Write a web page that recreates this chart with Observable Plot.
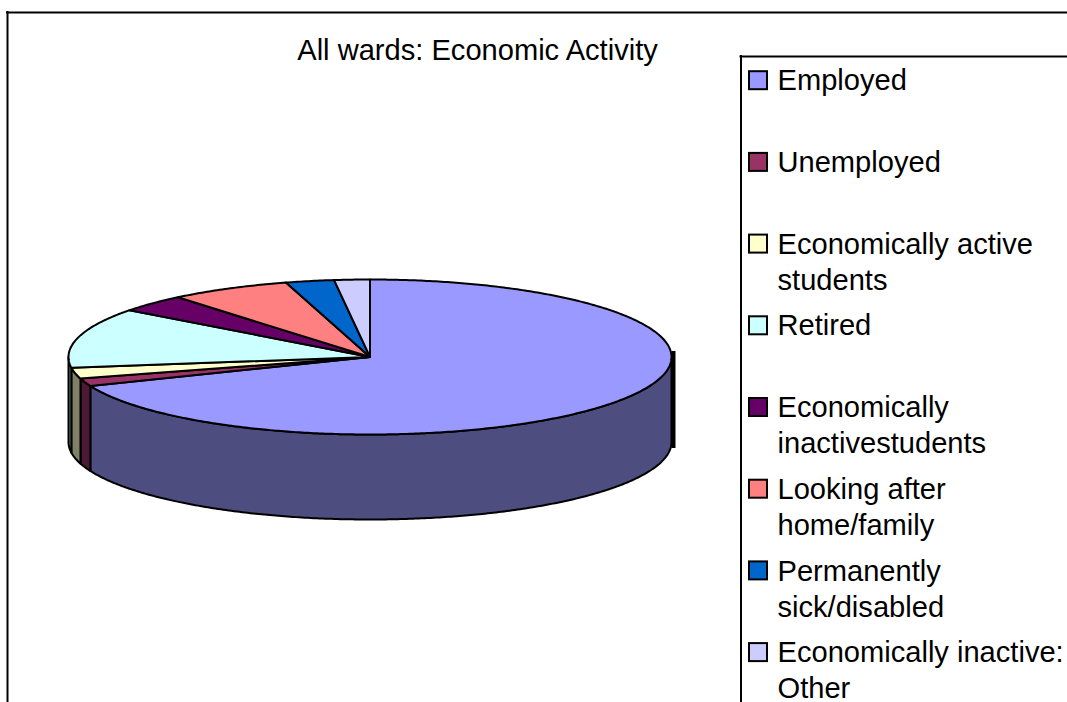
<!DOCTYPE html>
<html>
<head>
<meta charset="utf-8">
<script src="https://cdn.jsdelivr.net/npm/d3@7"></script>
<script src="https://cdn.jsdelivr.net/npm/@observablehq/plot@0.6"></script>
<style>
html,body{margin:0;padding:0;background:#fff;overflow:hidden}
svg{display:block;max-width:none}
</style>
</head>
<body>
<div id="chart"></div>
<script>
const title = "All wards: Economic Activity";
const categories = ["Employed","Unemployed","Economically active\nstudents","Retired","Economically\ninactivestudents","Looking after\nhome/family","Permanently\nsick/disabled","Economically inactive:\nOther"];
const shares = [68.9,1.6,2.3,12.5,3.7,6.5,2.6,1.9];
const colors = ["#9999ff","#993366","#ffffcc","#ccffff","#660066","#ff8080","#0066cc","#ccccff"];

// Layout of the drawing
const W = 1067, H = 702;
const cx = 369.5, cy = 356.5, rx = 301.5, ry = 77.5, depth = 85;
const legendX = 749, swatch = 18, rowTop = 71.2, rowStep = 81.7, legendBoxX = 740.5, legendBoxY = 56;
const fontFamily = "'Liberation Sans', Arial, sans-serif", fontSize = 29.1;

const rim = (t, drop = 0) => ({x: cx + rx * Math.sin(t), y: cy - ry * Math.cos(t) + drop});
const half = (c) => { const k = d3.rgb(c); return d3.rgb(k.r / 2, k.g / 2, k.b / 2).formatHex(); };
const arc = (a, b, drop = 0) => {
  const n = Math.max(2, Math.ceil((b - a) / 0.01));
  return d3.range(n + 1).map((i) => rim(a + (b - a) * i / n, drop));
};

let acc = 0;
const slices = categories.map((name, i) => {
  const a = acc / 100 * 2 * Math.PI; acc += shares[i];
  return {name, i, a, b: acc / 100 * 2 * Math.PI, color: colors[i]};
});

// Outer wall: only the front half of the disc shows (from 90 to 270 degrees).
const walls = slices.flatMap((s) => {
  const a = Math.max(s.a, Math.PI / 2), b = Math.min(s.b, 3 * Math.PI / 2);
  if (b <= a) return [];
  const pts = [...arc(a, b), ...arc(a, b, depth).reverse()];
  pts.push(pts[0]);
  return pts.map((p) => ({...p, id: s.i, fill: half(s.color)}));
});
const tops = slices.flatMap((s) => {
  const c = {x: cx, y: cy};
  return [c, ...arc(s.a, s.b), c].map((p) => ({...p, id: s.i, fill: s.color}));
});
const rows = slices.map((s) => ({...s, top: rowTop + rowStep * s.i}));

const plot = Plot.plot({
  width: W, height: H,
  margin: 0,
  style: {background: "#fff", overflow: "hidden"},
  x: {axis: null, domain: [0, W], range: [0, W]},
  y: {axis: null, domain: [0, H], range: [0, H]},
  color: {type: "identity"},
  marks: [
    // chart frame
    Plot.ruleX([7], {y1: 11, y2: H, stroke: "#000", strokeWidth: 2}),
    Plot.ruleY([12], {x1: 6, x2: W, stroke: "#000", strokeWidth: 2}),
    // legend box
    Plot.ruleX([legendBoxX], {y1: legendBoxY - 1, y2: H, stroke: "#000", strokeWidth: 2}),
    Plot.ruleY([legendBoxY], {x1: legendBoxX - 1, x2: W, stroke: "#000", strokeWidth: 2}),
    // pie walls and top
    Plot.line(walls, {x: "x", y: "y", z: "id", fill: "fill", stroke: "#000", strokeWidth: 2, strokeLinejoin: "round", curve: "linear"}),
    Plot.ruleX([cx + rx + 2], {y1: cy - 5.5, y2: cy + depth + 6.5, stroke: "#000", strokeWidth: 4}),
    Plot.line(tops, {x: "x", y: "y", z: "id", fill: "fill", stroke: "#000", strokeWidth: 2, strokeLinejoin: "round", curve: "linear"}),
    // title
    Plot.text([title], {x: 477, y: 50, text: (d) => d, textAnchor: "middle", lineAnchor: "middle", fontFamily, fontSize, fill: "#000"}),
    // legend
    Plot.rect(rows, {x1: legendX, x2: legendX + swatch, y1: (d) => d.top, y2: (d) => d.top + swatch, fill: "color", stroke: "#000", strokeWidth: 2}),
    Plot.text(rows, {x: legendX + 28, y: (d) => d.top - 7, text: "name", textAnchor: "start", lineAnchor: "top", lineHeight: 1.24, fontFamily, fontSize, fill: "#000"})
  ]
});
document.getElementById("chart").append(plot);
</script>
</body>
</html>
